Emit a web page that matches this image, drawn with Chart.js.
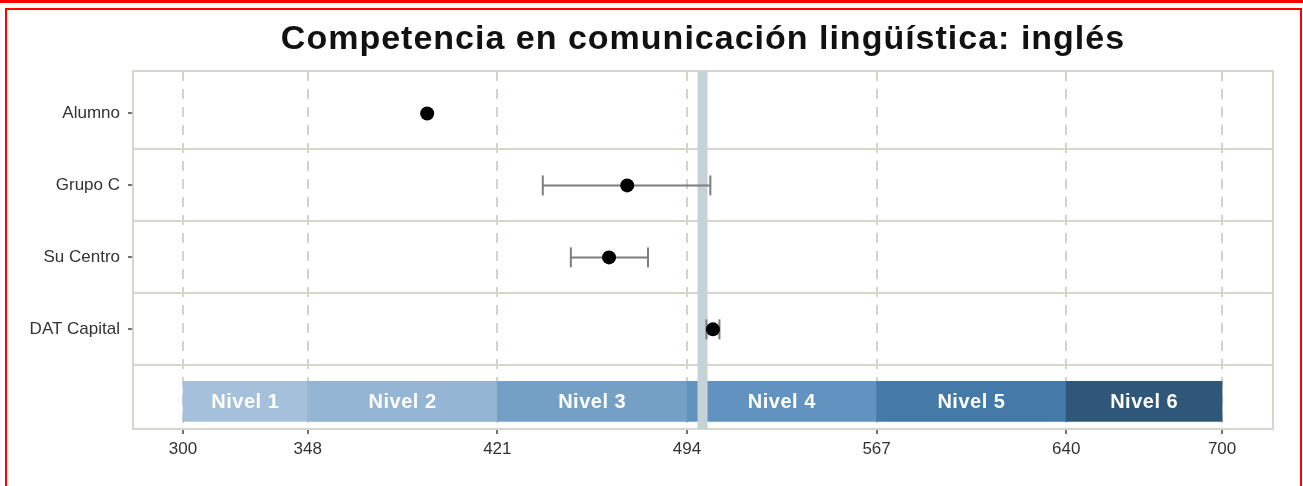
<!DOCTYPE html>
<html><head><meta charset="utf-8">
<script src="https://cdn.jsdelivr.net/npm/chart.js@4.4.1/dist/chart.umd.min.js"></script>
<style>
html,body{margin:0;padding:0;background:#fff;width:1303px;height:486px;overflow:hidden;position:relative}
#topline{position:absolute;left:0;top:0;width:1303px;height:3px;background:#ff0000}
#frame{position:absolute;left:5px;top:8px;width:1293px;height:520px;border:2px solid #ff0000}
#c{position:absolute;left:0;top:0}
</style></head>
<body>
<div id="topline"></div><div id="frame"></div>
<canvas id="c" width="1303" height="486"></canvas>
<script>
const titleText = 'Competencia en comunicación lingüística: inglés';
const categories = ['Alumno', 'Grupo C', 'Su Centro', 'DAT Capital'];
const means = [394, 471, 464, 504];
const lower = [null, 438.5, 449.3, 501.5];
const upper = [null, 503, 479, 506.5];
const referenceValue = 500;
const levelLabels = ['Nivel 1', 'Nivel 2', 'Nivel 3', 'Nivel 4', 'Nivel 5', 'Nivel 6'];
const levelBreaks = [300, 348, 421, 494, 567, 640, 700];
const levelColors = ['#a4c0da', '#94b5d3', '#75a0c6', '#6293c0', '#4479a8', '#2e5779'];

Chart.defaults.font.family = "'Liberation Sans', Arial, sans-serif";

const bandRow = categories.length + 1;
const yMin = 0.41, yMax = 5.385;
const xMin = 280.75, xMax = 719.6;

const datasets = [];
datasets.push({
  type: 'bar', indexAxis: 'y', order: 5,
  data: levelLabels.map((l, i) => ({x: [levelBreaks[i], levelBreaks[i + 1]], y: bandRow})),
  backgroundColor: levelColors, borderWidth: 0, barThickness: 40, grouped: false
});
datasets.push({
  type: 'line', order: 4,
  data: [{x: referenceValue, y: yMin}, {x: referenceValue, y: yMax}],
  borderColor: '#c5d2d6', borderWidth: 10, pointRadius: 0, fill: false
});
categories.forEach((c, i) => {
  if (lower[i] == null) return;
  datasets.push({
    type: 'line', order: 3,
    data: [{x: lower[i], y: i + 1}, {x: upper[i], y: i + 1}],
    borderColor: '#7d7d7d', borderWidth: 2, fill: false,
    pointStyle: 'line', pointRadius: 10, pointRotation: 90,
    pointBorderColor: '#7d7d7d', pointBorderWidth: 2, pointBackgroundColor: '#7d7d7d'
  });
});
datasets.push({
  type: 'scatter', order: 1,
  data: means.map((m, i) => ({x: m, y: i + 1})),
  backgroundColor: '#000', borderWidth: 0, pointRadius: 7
});

const framePlugin = {
  id: 'frame',
  beforeDatasetsDraw(chart) {
    const {ctx, chartArea: a} = chart;
    ctx.save();
    ctx.strokeStyle = '#d6d6cc';
    ctx.lineWidth = 2;
    ctx.strokeRect(a.left, a.top, a.right - a.left, a.bottom - a.top);
    ctx.restore();
  }
};
const bandLabels = {
  id: 'bandLabels',
  afterDatasetsDraw(chart) {
    const ctx = chart.ctx;
    const meta = chart.getDatasetMeta(0);
    ctx.save();
    ctx.fillStyle = '#ffffff';
    ctx.font = "bold 20px 'Liberation Sans', Arial, sans-serif";
    try { ctx.letterSpacing = '0.5px'; } catch (e) {}
    ctx.textAlign = 'center';
    ctx.textBaseline = 'middle';
    meta.data.forEach((bar, i) => {
      const p = bar.getProps(['x', 'y', 'base'], true);
      ctx.fillText(levelLabels[i], (p.x + p.base) / 2, p.y + 1);
    });
    ctx.restore();
  }
};
const titleSpacing = {
  id: 'titleSpacing',
  afterInit(chart) {
    const tb = chart.titleBlock;
    if (!tb) return;
    const orig = tb.draw.bind(tb);
    tb.draw = function (area) {
      const c = this.ctx;
      const prev = c.letterSpacing;
      try { c.letterSpacing = '1px'; } catch (e) {}
      orig(area);
      try { c.letterSpacing = prev || '0px'; } catch (e) {}
    };
  }
};

new Chart(document.getElementById('c'), {
  type: 'scatter',
  data: {datasets},
  options: {
    responsive: false,
    animation: false,
    events: [],
    layout: {padding: {left: 0, right: 30, top: 0, bottom: 0}},
    plugins: {
      legend: {display: false},
      tooltip: {enabled: false},
      title: {
        display: true, text: titleText, fullSize: false, color: '#111',
        font: {size: 34, weight: 'bold'}, padding: {top: 19, bottom: 11.2}
      }
    },
    scales: {
      x: {
        type: 'linear', min: xMin, max: xMax, offset: false,
        afterBuildTicks: s => { s.ticks = levelBreaks.map(v => ({value: v})); },
        afterFit: s => { s.height = 57; },
        ticks: {autoSkip: false, maxRotation: 0, padding: 5, color: '#333', font: {size: 17}, callback: v => String(v)},
        grid: {offset: false, color: '#d3d3cb', lineWidth: 2, tickLength: 5, tickColor: '#444', tickWidth: 1.5, tickBorderDash: []},
        border: {display: false, dash: [10, 8]}
      },
      y: {
        type: 'linear', reverse: true, min: yMin, max: yMax, offset: false,
        afterBuildTicks: s => {
          const t = [];
          categories.forEach((c, i) => { t.push({value: i + 1}); t.push({value: i + 1.5}); });
          s.ticks = t;
        },
        afterFit: s => { s.width = 133; },
        ticks: {
          autoSkip: false, padding: 8, color: '#333', font: {size: 17},
          callback: v => Number.isInteger(v) ? categories[v - 1] : ''
        },
        grid: {
          offset: false,
          color: c => (c.tick && !Number.isInteger(c.tick.value)) ? '#d6d6cc' : 'rgba(0,0,0,0)',
          lineWidth: 2, tickLength: 5, tickWidth: 1.5,
          tickColor: c => (c.tick && Number.isInteger(c.tick.value)) ? '#444' : 'rgba(0,0,0,0)'
        },
        border: {display: false}
      }
    }
  },
  plugins: [framePlugin, bandLabels, titleSpacing]
});
</script>
</body></html>
